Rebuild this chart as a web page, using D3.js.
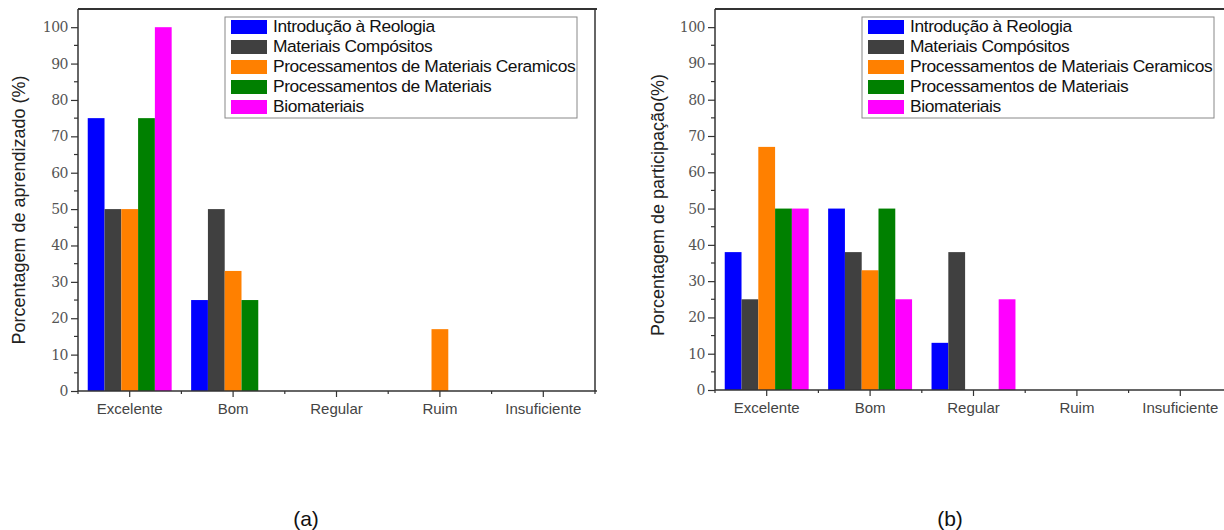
<!DOCTYPE html>
<html><head><meta charset="utf-8">
<script src="https://cdn.jsdelivr.net/npm/d3@7"></script>
<style>body{margin:0;background:#fff;} svg{display:block;font-family:"Liberation Sans",Arial,sans-serif;}</style>
</head><body>
<svg id="c" width="1224" height="530"></svg>
<script>
const categories = ["Excelente","Bom","Regular","Ruim","Insuficiente"];
const seriesNames = ["Introdução à Reologia","Materiais Compósitos","Processamentos de Materiais Ceramicos","Processamentos de Materiais","Biomateriais"];
const seriesColors = ["#0000ff","#404040","#ff8000","#008000","#ff00ff"];
// panel (a): aprendizado, values per series across categories
const aprendIntro = [75,25,0,0,0];
const aprendCompositos = [50,50,0,0,0];
const aprendCeramicos = [50,33,0,17,0];
const aprendProcess = [75,25,0,0,0];
const aprendBio = [100,0,0,0,0];
// panel (b): participação
const partIntro = [38,50,13,0,0];
const partCompositos = [25,38,38,0,0];
const partCeramicos = [67,33,0,0,0];
const partProcess = [50,50,0,0,0];
const partBio = [50,25,25,0,0];
const yTicks = [0,10,20,30,40,50,60,70,80,90,100];

const svg = d3.select("#c");

function panel(cfg){
  const {x0,x1,top,bottom,series,ylabel,ylabelX,ylabelY,tag,tagX,rightBorder} = cfg;
  const g = svg.append("g");
  const x = d3.scaleBand().domain(categories).range([x0,x1]).padding(0);
  const xs = d3.scaleBand().domain(d3.range(series.length)).range([0,x.bandwidth()]).paddingInner(0).paddingOuter(0.58);
  const y = d3.scaleLinear().domain([0,105]).range([bottom,top]);

  // bars
  series.forEach((vals,si)=>{
    g.selectAll(null).data(vals.map((v,ci)=>({v,c:categories[ci]}))).enter()
      .filter(d=>d.v>0)
      .append("rect")
      .attr("x",d=>x(d.c)+xs(si))
      .attr("width",xs.bandwidth())
      .attr("y",d=>y(d.v))
      .attr("height",d=>y(0)-y(d.v))
      .attr("fill",seriesColors[si]);
  });

  // frame
  g.append("line").attr("x1",x0).attr("x2",x1+2).attr("y1",top).attr("y2",top).attr("stroke","#333").attr("stroke-width",2);
  if(rightBorder) g.append("line").attr("x1",x1).attr("x2",x1).attr("y1",top).attr("y2",bottom).attr("stroke","#333").attr("stroke-width",1.5);

  // y axis
  const ya = d3.axisLeft(y).tickValues(yTicks).tickSize(7).tickPadding(3);
  const yg = g.append("g").attr("transform",`translate(${x0},0)`).call(ya);
  yg.select(".domain").attr("d",`M0,${bottom}V${top}`).attr("stroke","#333").attr("stroke-width",1.5);
  yg.selectAll(".tick line").attr("stroke","#333").attr("stroke-width",1.2);
  yg.selectAll(".tick text").attr("font-size",14).attr("fill","#555").attr("font-family","'DejaVu Serif',serif").attr("letter-spacing","-0.5");
  const minorY = d3.range(5,105,10);
  yg.selectAll(".minor").data(minorY).enter().append("line")
    .attr("x1",-4).attr("x2",0).attr("y1",d=>y(d)).attr("y2",d=>y(d)).attr("stroke","#333").attr("stroke-width",1.2);

  // x axis
  const xa = d3.axisBottom(x).tickSize(6).tickPadding(6);
  const xg = g.append("g").attr("transform",`translate(0,${bottom})`).call(xa);
  xg.select(".domain").attr("d",`M${x0},0H${x1+2}`).attr("stroke","#333").attr("stroke-width",1.5);
  xg.selectAll(".tick line").attr("stroke","#333").attr("stroke-width",1.2);
  xg.selectAll(".tick text").attr("font-size",15).attr("fill","#444");
  const bounds = categories.map(c=>x(c)).concat([x1]);
  xg.selectAll(".minor").data(bounds).enter().append("line")
    .attr("x1",d=>d).attr("x2",d=>d).attr("y1",0).attr("y2",3).attr("stroke","#333").attr("stroke-width",1.2);

  // y label
  g.append("text").attr("transform",`translate(${ylabelX},${ylabelY}) rotate(-90)`)
    .attr("text-anchor","middle").attr("font-size",18).attr("fill","#222").text(ylabel);

  // legend
  const lx = x0+147, ly = 17;
  const lg = g.append("g");
  lg.append("rect").attr("x",lx).attr("y",ly).attr("width",352).attr("height",101)
    .attr("fill","#fff").attr("stroke","#888").attr("stroke-width",1);
  seriesNames.forEach((n,i)=>{
    lg.append("rect").attr("x",lx+6).attr("y",ly+3+i*20).attr("width",36).attr("height",14).attr("fill",seriesColors[i]);
    lg.append("text").attr("x",lx+48).attr("y",ly+15+i*20).attr("font-size",17.4).attr("letter-spacing","-0.4").attr("fill","#111").text(n);
  });

  // tag
  svg.append("text").attr("x",tagX).attr("y",526).attr("text-anchor","middle").attr("font-size",21).attr("fill","#111").text(tag);
}

panel({x0:78,x1:595,top:9,bottom:391,series:[aprendIntro,aprendCompositos,aprendCeramicos,aprendProcess,aprendBio],
  ylabel:"Porcentagem de aprendizado (%)",ylabelX:25,ylabelY:210,tag:"(a)",tagX:306,rightBorder:true});
panel({x0:715,x1:1232,top:9,bottom:390,series:[partIntro,partCompositos,partCeramicos,partProcess,partBio],
  ylabel:"Porcentagem de participação(%)",ylabelX:664,ylabelY:205,tag:"(b)",tagX:950,rightBorder:false});
</script>
</body></html>
